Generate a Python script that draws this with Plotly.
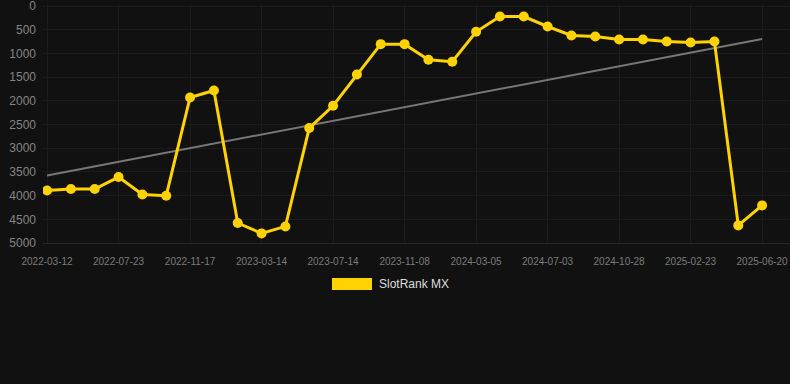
import numpy as np
import plotly.graph_objects as go

# Data
tick_labels = ["2022-03-12", "2022-07-23", "2022-11-17", "2023-03-14", "2023-07-14",
               "2023-11-08", "2024-03-05", "2024-07-03", "2024-10-28", "2025-02-23",
               "2025-06-20"]
rank_values = [3890, 3861, 3860, 3608, 3975, 4002, 1928, 1780, 4578, 4797, 4650,
               2574, 2103, 1443, 802, 802, 1133, 1175, 542, 219, 219, 430, 620,
               641, 705, 705, 747, 768, 747, 4628, 4206]
series_name = "SlotRank MX"
y_ticks = [0, 500, 1000, 1500, 2000, 2500, 3000, 3500, 4000, 4500, 5000]

x_idx = np.arange(len(rank_values))
tick_pos = list(range(0, len(rank_values), 3))

slope, intercept = np.polyfit(x_idx, rank_values, 1)
trend = slope * x_idx + intercept

W, H = 790, 384
L, R, T, B = 43, 0, 4, 141
pw, ph = W - L - R, H - T - B

def px(x):
    return (x - L) / pw

def py(y):
    return (H - B - y) / ph

fig = go.Figure()
fig.add_trace(go.Scatter(
    x=x_idx, y=trend, mode="lines",
    line=dict(color="#777777", width=2), hoverinfo="skip", showlegend=False))
fig.add_trace(go.Scatter(
    x=x_idx, y=rank_values, mode="lines+markers", name=series_name,
    line=dict(color="#FFD200", width=3),
    marker=dict(color="#FFD200", size=10), showlegend=False))

# legend (manual)
fig.add_shape(type="rect", xref="paper", yref="paper",
              x0=px(332), x1=px(372), y0=py(290), y1=py(278),
              fillcolor="#FFD200", line=dict(width=0))
fig.add_annotation(xref="paper", yref="paper", x=px(377), y=py(284),
                   text=series_name, showarrow=False, xanchor="left", yanchor="middle",
                   font=dict(family="Liberation Sans, Arial", size=12, color="#dddddd"))

fig.update_layout(
    width=W, height=H,
    margin=dict(l=L, r=R, t=T, b=B),
    paper_bgcolor="#111111", plot_bgcolor="#111111",
    font=dict(family="Liberation Sans, Arial"),
    xaxis=dict(range=[-0.17, 31.17], tickvals=tick_pos, ticktext=tick_labels,
               showgrid=True, gridcolor="#1c1c1c", gridwidth=1, zeroline=False,
               showline=True, linecolor="#2a2a2a", linewidth=1,
               tickfont=dict(size=10, color="#7c7c7c"), ticks="",
               ticklabelstandoff=9, fixedrange=True),
    yaxis=dict(range=[5000, -45], tickvals=y_ticks,
               showgrid=True, gridcolor="#1c1c1c", gridwidth=1, zeroline=False,
               showline=False, tickfont=dict(size=12, color="#858585"), ticks="",
               ticklabelstandoff=6, ticklabeloverflow="allow"),
)

fig.write_html("out.html")
